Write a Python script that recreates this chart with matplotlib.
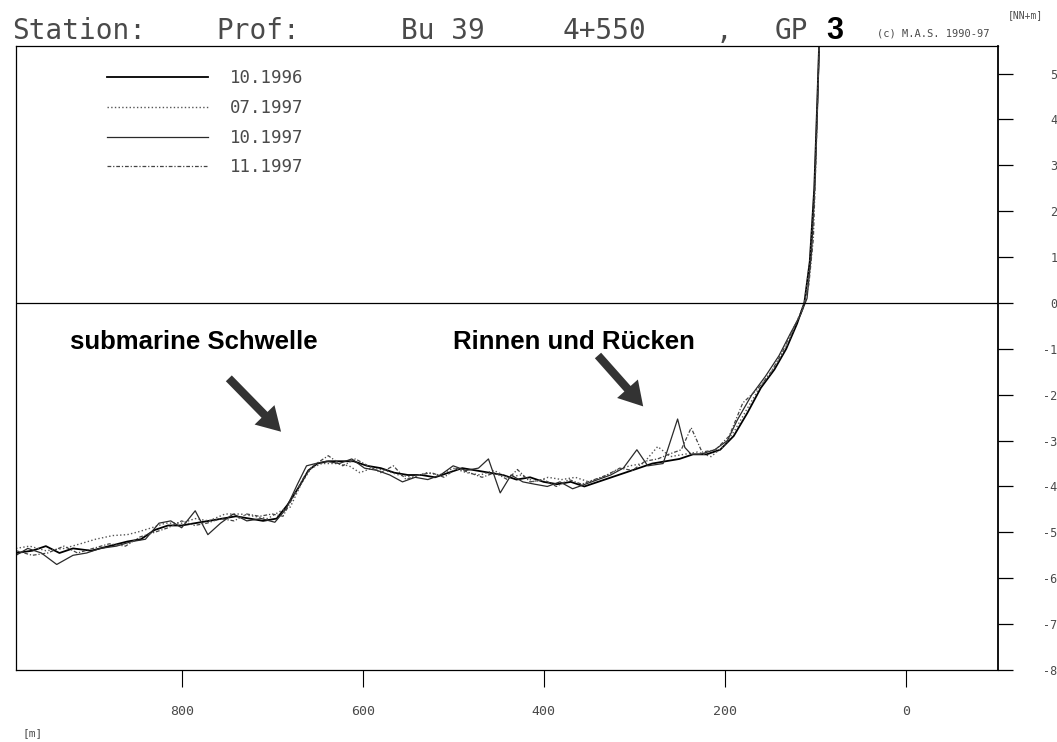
import numpy as np
import matplotlib.pyplot as plt
from matplotlib.ticker import FuncFormatter

# Profil Bu 39, 4+550 - Entfernung [m] / Hoehe [NN+m]
x_1996_10 = [983, 965, 950, 935, 920, 900, 880, 860, 845, 830, 815, 800, 785, 770, 755, 740,
             725, 710, 695, 683, 670, 660, 650, 638, 625, 610, 595, 580, 565, 550, 535, 520,
             505, 490, 475, 460, 445, 430, 415, 400, 385, 370, 355, 340, 325, 310, 295, 280,
             265, 250, 235, 220, 205, 190, 175, 160, 145, 132, 120, 112, 106, 101, 98, 95]
z_1996_10 = [-5.45, -5.40, -5.30, -5.45, -5.35, -5.40, -5.30, -5.20, -5.15, -4.95, -4.85, -4.85,
             -4.80, -4.75, -4.70, -4.65, -4.70, -4.75, -4.70, -4.40, -4.00, -3.65, -3.50, -3.45,
             -3.45, -3.45, -3.55, -3.60, -3.70, -3.75, -3.75, -3.80, -3.70, -3.60, -3.65, -3.70,
             -3.75, -3.85, -3.80, -3.90, -3.95, -3.90, -4.00, -3.90, -3.80, -3.70, -3.60, -3.50,
             -3.45, -3.40, -3.30, -3.30, -3.20, -2.90, -2.40, -1.85, -1.45, -1.00, -0.45, 0.00,
             0.90, 2.50, 4.20, 6.00]

x_1997_07 = [983, 968, 950, 930, 912, 895, 876, 860, 848, 833, 818, 800, 785, 770, 752, 735,
             720, 705, 692, 680, 668, 657, 645, 630, 615, 603, 590, 575, 560, 545, 530, 515,
             500, 485, 470, 455, 440, 425, 410, 395, 380, 365, 350, 335, 320, 305, 290, 274,
             260, 245, 230, 215, 200, 188, 175, 160, 145, 132, 120, 112, 106, 101, 98, 95]
z_1997_07 = [-5.35, -5.30, -5.40, -5.35, -5.25, -5.15, -5.07, -5.05, -4.99, -4.90, -4.80, -4.80,
             -4.70, -4.75, -4.60, -4.60, -4.65, -4.70, -4.55, -4.45, -3.95, -3.60, -3.50, -3.50,
             -3.55, -3.70, -3.60, -3.65, -3.75, -3.80, -3.70, -3.75, -3.60, -3.70, -3.75, -3.65,
             -3.80, -3.75, -3.90, -3.80, -3.85, -3.80, -3.90, -3.80, -3.65, -3.55, -3.50, -3.13,
             -3.35, -3.30, -3.25, -3.35, -3.10, -2.75, -2.30, -1.80, -1.40, -0.95, -0.40, 0.00,
             0.85, 2.40, 4.10, 6.00]

x_1997_10 = [983, 970, 955, 938, 920, 905, 890, 872, 855, 840, 825, 812, 800, 785, 771, 757,
             743, 728, 712, 697, 685, 672, 662, 652, 640, 626, 612, 598, 584, 570, 556, 542,
             528, 514, 500, 486, 472, 461, 448, 436, 423, 410, 396, 382, 368, 354, 340, 326,
             312, 297, 285, 268, 252, 244, 237, 227, 211, 197, 186, 170, 155, 140, 127, 116,
             109, 104, 100, 97, 95]
z_1997_10 = [-5.50, -5.35, -5.45, -5.70, -5.50, -5.45, -5.35, -5.30, -5.20, -5.15, -4.80, -4.75,
             -4.90, -4.53, -5.05, -4.80, -4.60, -4.75, -4.70, -4.78, -4.50, -3.95, -3.55, -3.50,
             -3.45, -3.50, -3.40, -3.60, -3.65, -3.75, -3.90, -3.80, -3.85, -3.75, -3.55, -3.65,
             -3.60, -3.40, -4.14, -3.75, -3.90, -3.95, -4.00, -3.90, -4.05, -3.95, -3.85, -3.75,
             -3.60, -3.20, -3.55, -3.50, -2.53, -3.15, -3.30, -3.30, -3.20, -3.00, -2.55, -2.00,
             -1.60, -1.15, -0.65, -0.25, 0.10, 1.10, 2.70, 4.50, 6.00]

x_1997_11 = [983, 965, 948, 930, 915, 898, 880, 862, 846, 830, 815, 800, 786, 772, 757, 742,
             728, 714, 700, 688, 676, 665, 655, 638, 622, 608, 594, 580, 566, 552, 538, 524,
             510, 496, 482, 468, 454, 440, 429, 415, 400, 386, 372, 358, 344, 330, 316, 302,
             288, 274, 262, 248, 237, 225, 210, 195, 180, 165, 150, 137, 124, 114, 107, 102,
             99, 95]
z_1997_11 = [-5.40, -5.50, -5.45, -5.30, -5.45, -5.35, -5.25, -5.30, -5.10, -5.00, -4.90, -4.75,
             -4.85, -4.80, -4.70, -4.75, -4.60, -4.65, -4.60, -4.65, -4.20, -3.80, -3.55, -3.33,
             -3.55, -3.40, -3.55, -3.70, -3.55, -3.85, -3.75, -3.70, -3.80, -3.60, -3.70, -3.80,
             -3.70, -3.85, -3.63, -3.90, -3.85, -4.00, -3.85, -3.95, -3.85, -3.75, -3.60, -3.65,
             -3.45, -3.40, -3.30, -3.20, -2.72, -3.25, -3.20, -2.90, -2.18, -1.90, -1.55, -1.10,
             -0.55, -0.15, 0.40, 1.40, 3.20, 6.00]

labels = ['10.1996', '07.1997', '10.1997', '11.1997']
x_ticks = [800, 600, 400, 200, 0]
y_ticks = list(range(-8, 6))

mono = 'DejaVu Sans Mono'
grey = '#4a4a4a'

W, H = 1057, 742
fig = plt.figure(figsize=(W / 100, H / 100), dpi=100)
ax = fig.add_axes([16 / W, 1 - 670 / H, (998 - 16) / W, (670 - 46) / H])

series = [
    (x_1996_10, z_1996_10, dict(color='black', lw=1.3, ls='-')),
    (x_1997_07, z_1997_07, dict(color='#555555', lw=1.0, ls=':')),
    (x_1997_10, z_1997_10, dict(color='#2a2a2a', lw=0.9, ls='-')),
    (x_1997_11, z_1997_11, dict(color='#444444', lw=0.9, ls=(0, (3, 1.5, 1, 1.5)))),
]
for (xs, zs, st), lab in zip(series, labels):
    ax.plot(xs, zs, label=lab, **st)

ax.axhline(0, color='black', lw=0.9)
ax.set_xlim(983, -102)
ax.set_ylim(-8, 5.6)

for s in ax.spines.values():
    s.set_linewidth(0.9)
ax.spines['right'].set_linewidth(1.3)

ax.set_xticks(x_ticks)
ax.set_yticks(y_ticks)
ax.yaxis.tick_right()
ax.tick_params(axis='y', direction='out', length=11, width=0.9, pad=32,
               labelsize=8.5, labelcolor=grey)
ax.tick_params(axis='x', direction='out', length=12, width=0.8, pad=13,
               labelsize=9.5, labelcolor=grey)
ax.yaxis.set_major_formatter(FuncFormatter(lambda v, p: f'{int(v)}'))
for t in ax.get_yticklabels():
    t.set_horizontalalignment('right')
    t.set_family(mono)
for t in ax.get_xticklabels():
    t.set_family(mono)

leg = ax.legend(loc='upper left', bbox_to_anchor=(107 / W, 1 - 69 / H),
                bbox_transform=fig.transFigure, frameon=False, borderpad=0,
                borderaxespad=0, handlelength=5.8, handletextpad=1.3,
                labelspacing=0.68, prop={'family': mono, 'size': 12.5})
for t in leg.get_texts():
    t.set_color(grey)

# Beschriftungen
arrow = dict(arrowstyle='simple,head_width=2.0,head_length=1.7,tail_width=0.6',
             color='#333333', lw=0)
ax.annotate('', xy=(688, -2.85), xytext=(750, -1.6), arrowprops=arrow)
ax.annotate('', xy=(288, -2.3), xytext=(342, -1.1), arrowprops=arrow)
ax.text(787, -0.85, 'submarine Schwelle', ha='center', va='center',
        fontsize=18.5, fontweight='bold', family='Liberation Sans')
ax.text(366, -0.85, 'Rinnen und Rücken', ha='center', va='center',
        fontsize=18.5, fontweight='bold', family='Liberation Sans')

# Kopfzeile
ty = 1 - 31 / H
head = dict(family=mono, fontsize=20, color=grey, va='center')
fig.text(12 / W, ty, 'Station:', **head)
fig.text(216 / W, ty, 'Prof:', **head)
fig.text(401 / W, ty, 'Bu 39', **head)
fig.text(563 / W, ty, '4+550', **head)
fig.text(716 / W, ty, ',', **head)
fig.text(775 / W, ty, 'GP', **head)
fig.text(826 / W, ty, '3', family='Liberation Sans', fontsize=22, fontweight='bold',
         color='black', va='center')
fig.text(877 / W, 1 - 33 / H, '(c) M.A.S. 1990-97', family=mono, fontsize=7.5,
         color=grey, va='center')
fig.text(1008 / W, 1 - 15 / H, '[NN+m]', family=mono, fontsize=7, color=grey, va='center')
fig.text(22 / W, 1 - 733 / H, '[m]', family=mono, fontsize=8, color=grey, va='center')

fig.savefig('out.png', dpi=100)
